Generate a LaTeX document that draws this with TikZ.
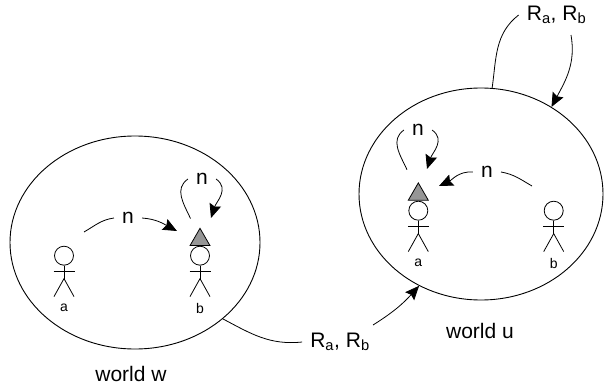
\documentclass[tikz,border=0pt]{standalone}
\usepackage{fontspec}
\setmainfont{Liberation Sans}
\usetikzlibrary{arrows.meta, shapes.geometric}
\definecolor{capGray}{RGB}{150, 150, 150}
\tikzset{
  World/.style  = {draw, ellipse, inner sep=0pt, line width=0.9pt},
  Head/.style   = {draw, circle, inner sep=0pt, minimum size=19pt, line width=0.8pt},
  Limb/.style   = {line width=0.8pt},
  Cap/.style    = {draw, fill=capGray, regular polygon, regular polygon sides=3,
                   inner sep=0pt, minimum size=23pt, line width=0.8pt},
  AgtLab/.style = {font=\fontsize{14}{16}\selectfont, inner sep=0pt},
  RelLab/.style = {font=\fontsize{21}{24}\selectfont, inner xsep=8pt, inner ysep=2pt},
  WldLab/.style = {font=\fontsize{21}{24}\selectfont, inner sep=0pt},
  Link/.style   = {line width=0.8pt},
  Arr/.style    = {Link, -{Stealth[length=14pt, width=12pt, inset=2pt]}},
}
\newcommand{\subr}[1]{\textsubscript{#1}}

\begin{document}
\begin{tikzpicture}[x=1pt, y=1pt]
\useasboundingbox (0,0) rectangle (604,-385);

% ======================= worlds ==========================================
\node[World, minimum width=250pt, minimum height=213pt] (worldW) at (135,-242.5) {};
\node[World, minimum width=244pt, minimum height=212pt] (worldU) at (481,-194) {};
\node[WldLab] (lblW) at (131,-374) {world w};
\node[WldLab] (lblU) at (480,-331) {world u};

% ======================= agents ==========================================
% name / x / y of head / label
\foreach \nm/\x/\y/\lab in {wa/64/-255.7/a, wb/200/-255.7/b, ua/418.3/-210.7/a, ub/553.7/-210.7/b} {
  \node[Head] (head\nm) at (\x,\y) {};
  \draw[Limb] (head\nm.south) -- ++(0,-13) coordinate (hip\nm);
  \draw[Limb] ([shift={(-10.5,-6)}]head\nm.south) -- ++(21,0);
  \draw[Limb] (hip\nm) -- ++(-10,-18);
  \draw[Limb] (hip\nm) -- ++(10,-18);
  \node[AgtLab] (lab\nm) at (\x,\y-52.5) {\lab};
}
% the marked agent in each world
\node[Cap] (capW) at (200,-239.8) {};
\node[Cap] (capU) at (418.3,-194.4) {};

% ======================= world w =========================================
\node[RelLab] (nAB) at (128,-218) {n};
\node[RelLab] (nBB) at (202,-179) {n};
\coordinate (abFrom) at (84,-232);
\coordinate (abTo)   at (177,-231);
\coordinate (bbFrom) at (190.5,-218.5);
\coordinate (bbTo)   at (211,-218);
\draw[Link] (abFrom) to[out=30, in=188] (nAB.west);
\draw[Arr]  (nAB.east) to[out=-4, in=152] (abTo);
\draw[Link] (bbFrom) to[out=115, in=215, looseness=1.1] (nBB.west);
\draw[Arr]  (nBB.east) to[out=-35, in=72, looseness=1.1] (bbTo);

% ======================= world u =========================================
\node[RelLab] (nBA) at (487,-172) {n};
\node[RelLab] (nAA) at (418,-130) {n};
\coordinate (baFrom) at (532,-186);
\coordinate (baTo)   at (439,-186);
\coordinate (aaFrom) at (407,-169.7);
\coordinate (aaTo)   at (427,-169);
\draw[Link] (baFrom) to[out=150, in=-10] (nBA.east);
\draw[Arr]  (nBA.west) to[out=176, in=25] (baTo);
\draw[Link] (aaFrom) to[out=115, in=215, looseness=1.1] (nAA.west);
\draw[Arr]  (nAA.east) to[out=-35, in=72, looseness=1.1] (aaTo);

% ======================= accessibility ===================================
\node[RelLab] (rWU) at (340,-342) {R\subr{a}, R\subr{b}};
\node[RelLab] (rUU) at (556.5,-15) {R\subr{a}, R\subr{b}};
\coordinate (wuFrom) at (373,-325);
\coordinate (uuFrom) at (571,-35);
\draw[Link] (worldW.-41) to[out=-28, in=186] (rWU.west);
\draw[Arr]  (wuFrom) to[out=32, in=228] (worldU.236);
\draw[Link] (worldU.84.6) to[out=82, in=218] (rUU.west);
\draw[Arr]  (uuFrom) to[out=-80, in=62] (worldU.51.3);

\end{tikzpicture}
\end{document}
